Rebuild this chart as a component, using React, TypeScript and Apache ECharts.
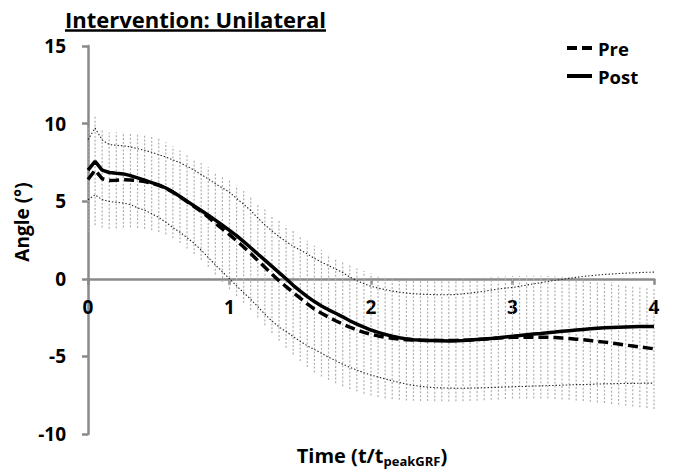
import React, { useEffect, useRef } from "react";
import * as echarts from "echarts";

// Normalised time grid (t / t_peakGRF)
const time = [
  0.0, 0.05, 0.1, 0.15, 0.2, 0.25, 0.3, 0.35, 0.4, 0.45,
  0.5, 0.55, 0.6, 0.65, 0.7, 0.75, 0.8, 0.85, 0.9, 0.95,
  1.0, 1.05, 1.1, 1.15, 1.2, 1.25, 1.3, 1.35, 1.4, 1.45,
  1.5, 1.55, 1.6, 1.65, 1.7, 1.75, 1.8, 1.85, 1.9, 1.95,
  2.0, 2.05, 2.1, 2.15, 2.2, 2.25, 2.3, 2.35, 2.4, 2.45,
  2.5, 2.55, 2.6, 2.65, 2.7, 2.75, 2.8, 2.85, 2.9, 2.95,
  3.0, 3.05, 3.1, 3.15, 3.2, 3.25, 3.3, 3.35, 3.4, 3.45,
  3.5, 3.55, 3.6, 3.65, 3.7, 3.75, 3.8, 3.85, 3.9, 3.95,
  4.0,
];

// Mean angle, pre-intervention (deg)
const preMean = [
  6.4, 7.0, 6.45, 6.33, 6.35, 6.38, 6.37, 6.33, 6.27, 6.15,
  6.02, 5.83, 5.58, 5.28, 4.97, 4.66, 4.34, 3.98, 3.58, 3.22,
  2.85, 2.45, 2.05, 1.63, 1.18, 0.74, 0.3, -0.12, -0.5, -0.88,
  -1.25, -1.62, -1.95, -2.22, -2.47, -2.7, -2.92, -3.12, -3.3, -3.45,
  -3.58, -3.68, -3.76, -3.83, -3.88, -3.92, -3.94, -3.96, -3.97, -3.98,
  -3.98, -3.98, -3.97, -3.96, -3.94, -3.91, -3.88, -3.85, -3.82, -3.79,
  -3.77, -3.76, -3.76, -3.76, -3.76, -3.77, -3.79, -3.82, -3.85, -3.89,
  -3.93, -3.98, -4.03, -4.08, -4.14, -4.2, -4.27, -4.33, -4.39, -4.45,
  -4.51,
];

// Standard deviation, pre-intervention (deg)
const preSd = [
  3.4, 3.55, 3.15, 3.1, 3.1, 3.07, 3.05, 3.05, 3.05, 3.02,
  3.0, 2.97, 2.96, 2.98, 3.02, 3.06, 3.12, 3.2, 3.3, 3.42,
  3.52, 3.56, 3.6, 3.63, 3.67, 3.73, 3.8, 3.87, 3.94, 4.0,
  4.04, 4.07, 4.08, 4.07, 4.05, 4.03, 4.0, 3.98, 3.96, 3.95,
  3.94, 3.93, 3.93, 3.92, 3.92, 3.92, 3.92, 3.91, 3.91, 3.91,
  3.91, 3.92, 3.92, 3.93, 3.93, 3.94, 3.94, 3.95, 3.95, 3.95,
  3.95, 3.95, 3.95, 3.95, 3.95, 3.95, 3.95, 3.95, 3.95, 3.95,
  3.95, 3.94, 3.94, 3.93, 3.93, 3.92, 3.91, 3.9, 3.89, 3.88,
  3.88,
];

// Mean angle, post-intervention (deg)
const postMean = [
  7.0, 7.56, 7.0, 6.85, 6.8, 6.76, 6.65, 6.5, 6.35, 6.2,
  6.05, 5.85, 5.6, 5.3, 5.0, 4.7, 4.4, 4.1, 3.78, 3.45,
  3.12, 2.78, 2.4, 2.0, 1.6, 1.2, 0.8, 0.4, 0.0, -0.42,
  -0.8, -1.15, -1.47, -1.75, -2.0, -2.22, -2.45, -2.7, -2.92, -3.12,
  -3.3, -3.45, -3.58, -3.7, -3.8, -3.87, -3.92, -3.95, -3.97, -3.98,
  -3.99, -4.0, -3.99, -3.97, -3.94, -3.91, -3.88, -3.84, -3.8, -3.75,
  -3.7, -3.66, -3.61, -3.56, -3.52, -3.47, -3.43, -3.38, -3.34, -3.3,
  -3.26, -3.22, -3.19, -3.16, -3.14, -3.12, -3.1, -3.09, -3.08, -3.07,
  -3.07,
];

// Post-intervention mean + 1 SD (deg)
const postUpper = [
  8.96, 9.71, 8.95, 8.65, 8.6, 8.57, 8.5, 8.38, 8.28, 8.15,
  8.0, 7.85, 7.67, 7.48, 7.25, 7.0, 6.72, 6.43, 6.12, 5.85,
  5.58, 5.18, 4.8, 4.4, 3.92, 3.48, 3.08, 2.72, 2.4, 2.1,
  1.85, 1.6, 1.32, 1.07, 0.85, 0.63, 0.4, 0.12, -0.12, -0.32,
  -0.48, -0.6, -0.7, -0.79, -0.86, -0.92, -0.96, -0.99, -1.01, -1.02,
  -1.03, -1.03, -1.01, -0.97, -0.92, -0.86, -0.8, -0.73, -0.66, -0.6,
  -0.56, -0.48, -0.4, -0.32, -0.25, -0.17, -0.1, -0.04, 0.03, 0.09,
  0.15, 0.2, 0.24, 0.28, 0.31, 0.34, 0.36, 0.38, 0.4, 0.42,
  0.43,
];

// Post-intervention mean - 1 SD (deg)
const postLower = [
  5.09, 5.41, 5.1, 4.98, 4.93, 4.88, 4.78, 4.58, 4.42, 4.2,
  3.95, 3.65, 3.3, 3.0, 2.65, 2.28, 1.85, 1.37, 0.9, 0.45,
  0.0, -0.45, -0.9, -1.32, -1.8, -2.28, -2.72, -3.1, -3.4, -3.72,
  -4.03, -4.32, -4.55, -4.8, -5.05, -5.28, -5.5, -5.7, -5.88, -6.05,
  -6.2, -6.33, -6.45, -6.57, -6.68, -6.78, -6.87, -6.93, -6.98, -7.01,
  -7.03, -7.04, -7.05, -7.05, -7.04, -7.03, -7.02, -7.0, -6.99, -6.97,
  -6.96, -6.94, -6.93, -6.91, -6.9, -6.88, -6.87, -6.85, -6.84, -6.82,
  -6.81, -6.8, -6.78, -6.77, -6.76, -6.75, -6.74, -6.74, -6.73, -6.72,
  -6.72,
];

const legendNames = ["Pre", "Post"];

const FONT = "Open Sans";
const AXIS_GREY = "#8a8a8a";

const Y_MIN = -10;
const Y_MAX = 15;
const GRID = { left: 88, right: 19, top: 46, bottom: 39 };
const CHART_H = 473;

const pairs = (ys: number[]) => time.map((t, i) => [t, ys[i]]);

export default function App() {
  const ref = useRef<HTMLDivElement>(null);

  useEffect(() => {
    if (!ref.current) return;
    const chart = echarts.init(ref.current, undefined, { renderer: "svg" });

    const errorBars = time.map((t, i) => [
      t,
      preMean[i] - preSd[i],
      preMean[i] + preSd[i],
    ]);

    // lift the x axis from the grid bottom up to the y = 0 line
    const plotH = CHART_H - GRID.top - GRID.bottom;
    const zeroLift = (plotH * (0 - Y_MIN)) / (Y_MAX - Y_MIN);

    const legendX = 567;
    const legendY = [48, 76];

    chart.setOption({
      animation: false,
      backgroundColor: "#ffffff",
      grid: { ...GRID, outerBoundsMode: "none" },
      xAxis: {
        type: "value",
        min: 0,
        max: 4,
        interval: 1,
        offset: -zeroLift,
        splitLine: { show: false },
        axisLine: {
          onZero: false,
          lineStyle: { color: AXIS_GREY, width: 2.5 },
        },
        axisTick: {
          show: true,
          length: 6,
          lineStyle: { color: AXIS_GREY, width: 2.5 },
        },
        axisLabel: {
          margin: 19,
          fontFamily: FONT,
          fontWeight: "bold",
          fontSize: 19,
          color: "#000",
        },
      },
      yAxis: {
        type: "value",
        min: Y_MIN,
        max: Y_MAX,
        interval: 5,
        splitLine: { show: false },
        axisLine: {
          show: true,
          lineStyle: { color: AXIS_GREY, width: 2.5 },
        },
        axisTick: {
          show: true,
          length: 6,
          lineStyle: { color: AXIS_GREY, width: 2.5 },
        },
        axisLabel: {
          margin: 22,
          fontFamily: FONT,
          fontWeight: "bold",
          fontSize: 19,
          color: "#000",
        },
      },
      series: [
        {
          name: "Pre SD",
          type: "custom",
          data: errorBars,
          encode: { x: 0, y: [1, 2] },
          renderItem: (_params: any, api: any) => {
            const x = api.value(0);
            const lo = api.coord([x, api.value(1)]);
            const hi = api.coord([x, api.value(2)]);
            return {
              type: "line",
              shape: { x1: lo[0], y1: lo[1], x2: hi[0], y2: hi[1] },
              style: {
                stroke: "#b0b0b0",
                lineWidth: 1.2,
                lineDash: [2, 1.8],
              },
            };
          },
          z: 1,
        },
        {
          name: "Post +SD",
          type: "line",
          data: pairs(postUpper),
          symbol: "none",
          lineStyle: { color: "#222", width: 1.1, type: [1.4, 2] },
          z: 2,
        },
        {
          name: "Post -SD",
          type: "line",
          data: pairs(postLower),
          symbol: "none",
          lineStyle: { color: "#222", width: 1.1, type: [1.4, 2] },
          z: 2,
        },
        {
          name: "Pre",
          type: "line",
          data: pairs(preMean),
          symbol: "none",
          color: "#000",
          lineStyle: { color: "#000", width: 3.5, type: [10, 5] },
          z: 3,
        },
        {
          name: "Post",
          type: "line",
          data: pairs(postMean),
          symbol: "none",
          color: "#000",
          lineStyle: { color: "#000", width: 3.5, type: "solid" },
          z: 4,
        },
      ],
      graphic: [
        // title with underline
        {
          type: "text",
          x: 65,
          y: 19,
          style: {
            text: "Intervention: Unilateral",
            font: `bold 22px '${FONT}'`,
            fill: "#000",
            textAlign: "left",
            textVerticalAlign: "middle",
          },
        },
        {
          type: "line",
          shape: { x1: 65, y1: 30.5, x2: 326, y2: 30.5 },
          style: { stroke: "#000", lineWidth: 2.4 },
        },
        // axis titles
        {
          type: "text",
          x: 22,
          y: 222,
          rotation: Math.PI / 2,
          style: {
            text: "Angle (°)",
            font: `bold 19px '${FONT}'`,
            fill: "#000",
            textAlign: "center",
            textVerticalAlign: "middle",
          },
        },
        {
          type: "text",
          x: 372,
          y: 455,
          style: {
            text: "{a|Time (t/t}{b|peakGRF}{a|)}",
            fill: "#000",
            textAlign: "center",
            textVerticalAlign: "middle",
            rich: {
              a: { font: `bold 20px '${FONT}'`, fill: "#000" },
              b: {
                font: `bold 13px '${FONT}'`,
                fill: "#000",
                padding: [12, 0, 0, 0],
              },
            },
          },
        },
        // legend
        {
          type: "line",
          shape: { x1: legendX, y1: legendY[0], x2: legendX + 25, y2: legendY[0] },
          style: { stroke: "#000", lineWidth: 4, lineDash: [10, 5] },
        },
        {
          type: "line",
          shape: { x1: legendX, y1: legendY[1], x2: legendX + 25, y2: legendY[1] },
          style: { stroke: "#000", lineWidth: 4 },
        },
        ...legendNames.map((name, i) => ({
          type: "text",
          x: legendX + 31,
          y: legendY[i],
          style: {
            text: name,
            font: `bold 18.5px '${FONT}'`,
            fill: "#000",
            textAlign: "left",
            textVerticalAlign: "middle",
          },
        })),
      ],
    });

    return () => chart.dispose();
  }, []);

  return (
    <div
      ref={ref}
      style={{ position: "absolute", left: 0, top: 0, width: 673, height: 473 }}
    />
  );
}
